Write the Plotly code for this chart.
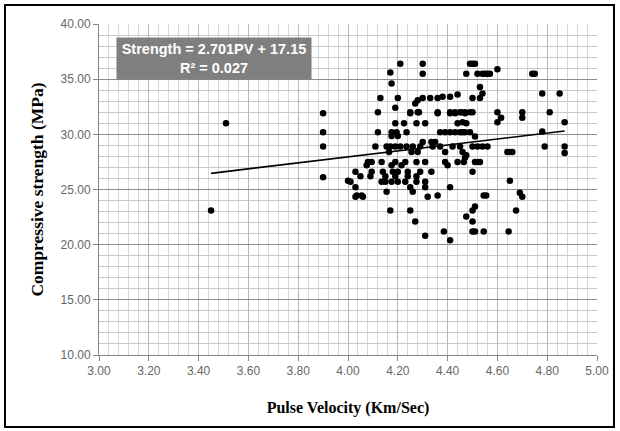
import plotly.graph_objects as go
import numpy as np

# Pulse velocity (Km/Sec) and compressive strength (MPa)
pulse_velocity = [
    3.45, 3.51, 3.90, 3.90, 3.90, 3.90,
    4.00, 4.01, 4.03, 4.03, 4.035, 4.03, 4.055, 4.05, 4.06,
    4.075, 4.08, 4.095, 4.09, 4.095,
    4.11, 4.12, 4.12, 4.13, 4.135, 4.135, 4.14,
    4.15, 4.15, 4.155, 4.155, 4.165, 4.17, 4.17, 4.17, 4.175, 4.175, 4.175, 4.175, 4.175,
    4.18, 4.19, 4.19, 4.19, 4.19, 4.19, 4.195, 4.20, 4.20, 4.20, 4.20, 4.21, 4.21,
    4.215, 4.225, 4.23, 4.23, 4.235, 4.235, 4.24, 4.24,
    4.25, 4.25, 4.25, 4.25, 4.255, 4.26, 4.26, 4.27, 4.27, 4.275, 4.275, 4.275, 4.275,
    4.28, 4.28, 4.28, 4.285, 4.29, 4.29,
    4.30, 4.30, 4.30, 4.30, 4.31, 4.31, 4.31, 4.31, 4.31, 4.32, 4.33, 4.335, 4.335,
    4.34, 4.35, 4.36, 4.36, 4.36, 4.36, 4.37, 4.37, 4.38, 4.385, 4.39, 4.39, 4.39,
    4.40, 4.41, 4.41, 4.41, 4.41, 4.41, 4.41, 4.42, 4.43, 4.43, 4.43, 4.44, 4.44, 4.44,
    4.45, 4.45, 4.45, 4.455, 4.46, 4.46, 4.46, 4.465, 4.47, 4.47, 4.47, 4.47, 4.475,
    4.475, 4.475, 4.475, 4.49, 4.49, 4.49, 4.50, 4.50, 4.50, 4.50, 4.50, 4.50, 4.50,
    4.50, 4.51, 4.51, 4.51, 4.51, 4.51, 4.52, 4.52, 4.52, 4.53, 4.53, 4.53, 4.54, 4.54,
    4.54, 4.545, 4.545, 4.55, 4.555, 4.56, 4.56, 4.57,
    4.60, 4.60, 4.60, 4.615, 4.64, 4.645, 4.65, 4.65, 4.66, 4.675, 4.69, 4.70, 4.70,
    4.70, 4.74, 4.75, 4.78, 4.78, 4.79, 4.81, 4.85, 4.87, 4.87, 4.87,
]
strength = [
    23.1, 31.0, 31.9, 30.2, 28.9, 26.1,
    25.8, 25.7, 26.6, 25.2, 24.45, 24.35, 24.45, 26.2, 24.35,
    27.2, 27.5, 27.5, 26.2, 26.6,
    28.9, 32.0, 30.2, 33.3, 27.5, 25.7, 26.6,
    26.2, 25.7, 24.8, 28.9, 28.4, 35.6, 23.1, 28.9, 34.6, 30.2, 29.85, 27.2, 25.7,
    26.6, 32.4, 31.0, 28.9, 27.5, 26.2, 30.2, 33.3, 29.85, 26.6, 25.7, 36.4, 28.9,
    27.2, 31.0, 27.5, 25.7, 30.2, 28.9, 26.6, 26.2,
    32.0, 25.2, 23.1, 31.9, 28.4, 24.8, 28.9, 32.8, 22.1, 31.0, 27.5, 26.2, 25.7,
    33.1, 32.0, 28.4, 32.0, 28.9, 26.6,
    36.4, 35.5, 33.3, 29.3, 31.0, 27.5, 25.7, 25.2, 20.8, 24.35, 33.3, 29.3, 26.6,
    28.9, 29.3, 33.3, 32.0, 31.9, 24.45, 30.2, 28.9, 33.4, 21.2, 30.2, 28.4, 27.5,
    27.2, 33.4, 32.0, 31.9, 30.2, 25.2, 20.4, 28.9, 32.0, 31.9, 30.2, 33.6, 31.0, 27.5,
    32.0, 28.9, 30.2, 32.0, 31.1, 30.2, 28.4, 27.5, 32.0, 31.9, 30.2, 27.9, 35.5,
    31.0, 28.1, 22.55, 36.4, 32.0, 30.2, 36.4, 33.3, 32.0, 28.9, 26.6, 23.1, 22.1,
    21.2, 36.4, 29.8, 27.5, 23.45, 21.2, 35.5, 28.9, 27.5, 34.3, 33.3, 27.5, 35.5, 33.7,
    28.9, 24.45, 21.2, 35.5, 24.45, 35.5, 28.9, 35.5,
    35.9, 32.0, 31.1, 31.5, 28.4, 21.2, 28.4, 25.8, 28.4, 23.1, 24.7, 32.0, 31.5,
    24.35, 35.5, 35.5, 33.7, 30.25, 28.9, 32.0, 33.7, 31.1, 28.9, 28.3,
]

# Linear trendline shown on the chart
slope = 2.701
intercept = 17.15
equation_text = "Strength = 2.701PV + 17.15<br>R² = 0.027"

x_ticks = [3.00, 3.20, 3.40, 3.60, 3.80, 4.00, 4.20, 4.40, 4.60, 4.80, 5.00]
y_ticks = [10.00, 15.00, 20.00, 25.00, 30.00, 35.00, 40.00]

trend_x = np.array([min(pulse_velocity), max(pulse_velocity)])
trend_y = slope * trend_x + intercept

fig = go.Figure()
fig.add_trace(go.Scatter(
    x=pulse_velocity, y=strength, mode="markers",
    marker=dict(color="black", size=6.5),
    showlegend=False, hoverinfo="skip",
))
fig.add_trace(go.Scatter(
    x=trend_x, y=trend_y, mode="lines",
    line=dict(color="black", width=1.7),
    showlegend=False, hoverinfo="skip",
))

tick_font = dict(family="Liberation Sans, Arial, sans-serif", size=12, color="#666666")

fig.update_layout(
    width=620, height=431,
    margin=dict(l=99, r=23, t=24, b=76),
    paper_bgcolor="white",
    plot_bgcolor="white",
    xaxis=dict(
        range=[3, 5], tickvals=x_ticks, ticktext=[f"{v:.2f}" for v in x_ticks],
        showline=True, linecolor="#868686", linewidth=1,
        ticks="outside", ticklen=5, tickcolor="#868686",
        showgrid=True, gridcolor="#b8b8b8", gridwidth=1,
        minor=dict(dtick=0.04, showgrid=True, gridcolor="#d6d6d6", gridwidth=1),
        tickfont=tick_font,
        title=dict(text="<b>Pulse Velocity (Km/Sec)</b>",
                   font=dict(family="Liberation Serif, Times New Roman, serif", size=16, color="black"),
                   standoff=24),
        zeroline=False,
    ),
    yaxis=dict(
        range=[10, 40], tickvals=y_ticks, ticktext=[f"{v:.2f}" for v in y_ticks],
        showline=True, linecolor="#868686", linewidth=1,
        ticks="outside", ticklen=5, tickcolor="#868686",
        showgrid=True, gridcolor="#8c8c8c", gridwidth=1,
        minor=dict(dtick=1, showgrid=True, gridcolor="#c8c8c8", gridwidth=1),
        tickfont=tick_font,
        title=dict(text="<b>Compressive strength (MPa)</b>",
                   font=dict(family="Liberation Serif, Times New Roman, serif", size=17.5, color="black"),
                   standoff=12),
        zeroline=False,
    ),
    annotations=[dict(
        xref="paper", yref="paper", x=0.2305, y=0.895,
        xanchor="center", yanchor="middle",
        text="<b>" + equation_text + "</b>",
        showarrow=False, align="center",
        font=dict(family="Liberation Sans, Arial, sans-serif", size=14.5, color="white"),
        bgcolor="#7f7f7f", borderpad=3, width=188,
    )],
    shapes=[dict(
        type="rect", xref="paper", yref="paper",
        x0=-0.1888, x1=1.0341, y0=-0.2175, y1=1.0574,
        line=dict(color="black", width=2), fillcolor="rgba(0,0,0,0)",
        layer="above",
    )],
)

fig.write_html(
    "out.html",
    config={"displayModeBar": False},
    post_script="document.body.style.margin='0';document.body.style.overflow='hidden';",
)
